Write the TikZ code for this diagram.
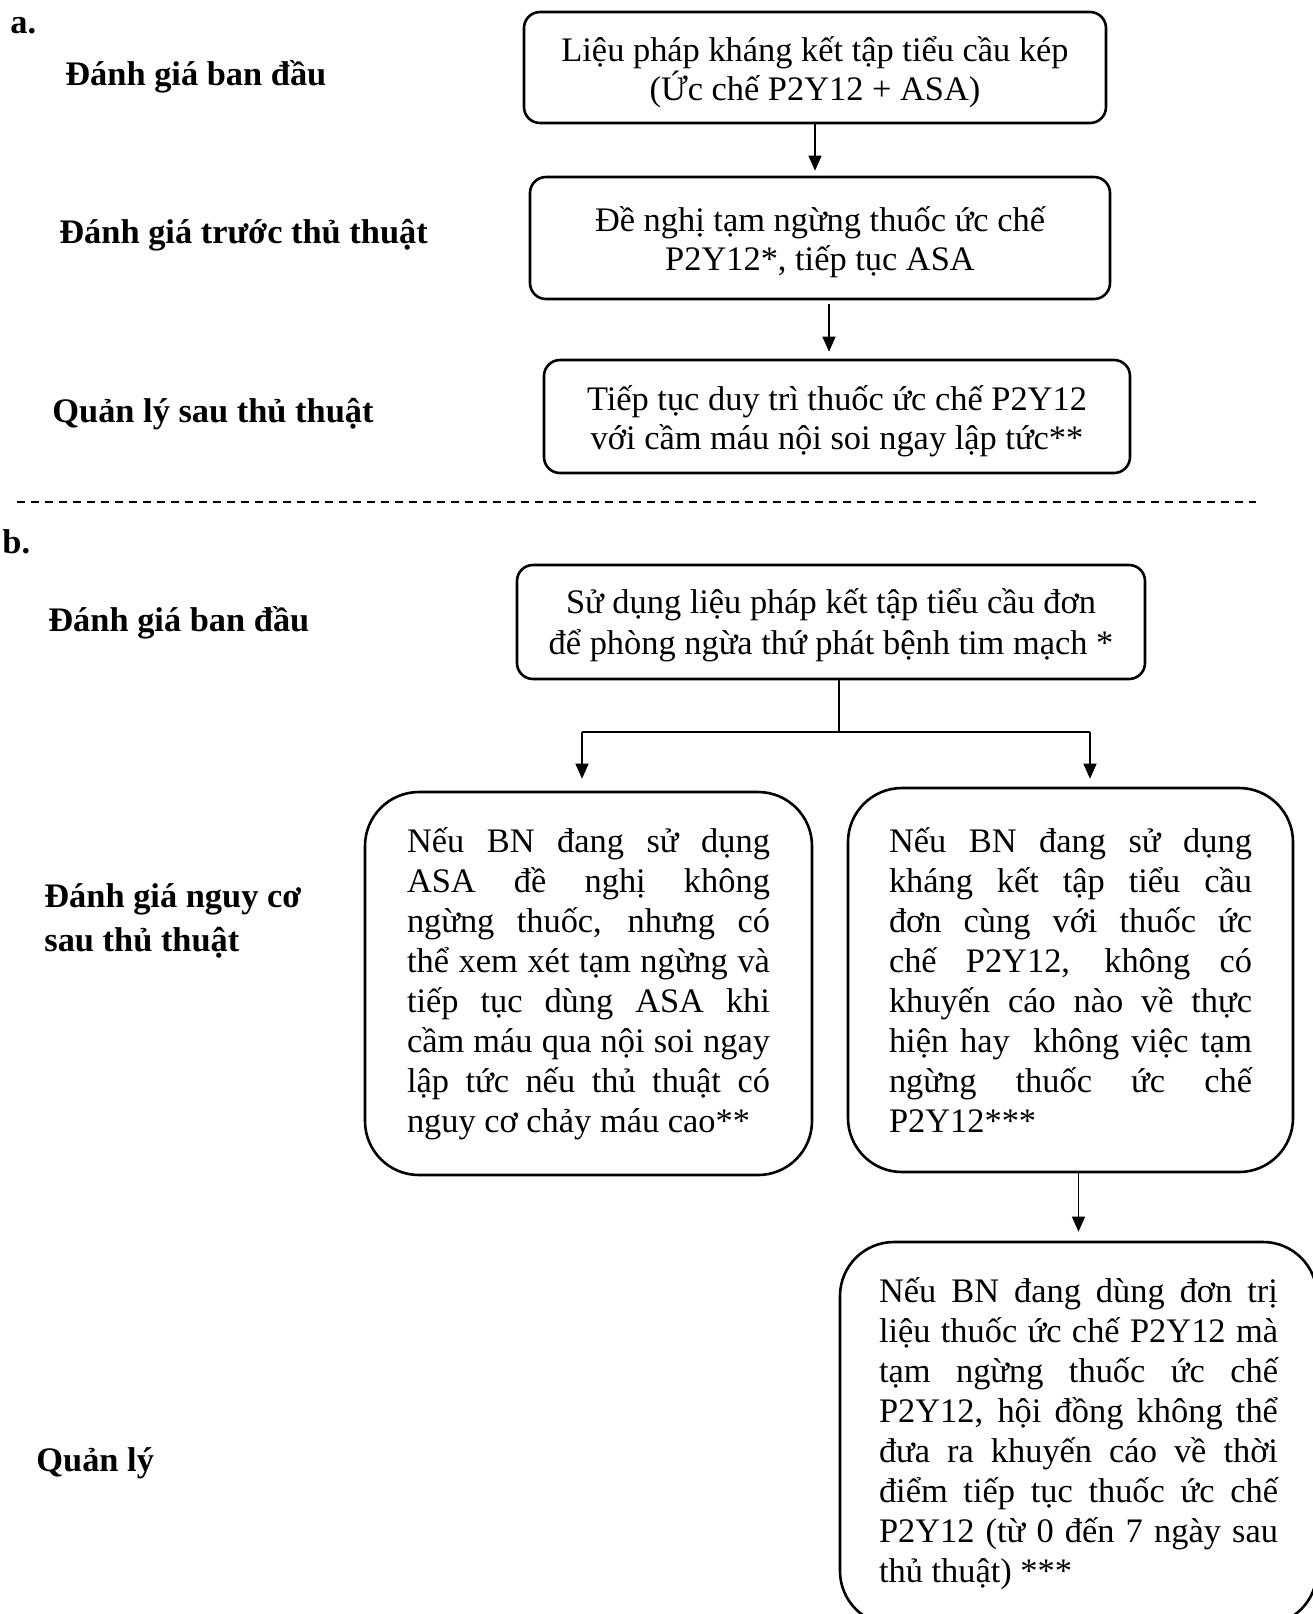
\documentclass[tikz,border=0pt]{standalone}
\usepackage{fontspec}
\setmainfont{Liberation Serif}
\usetikzlibrary{arrows.meta,calc}
\newcommand{\topstrut}{\rule{0pt}{17pt}}
\begin{document}
\begin{tikzpicture}[x=0.5pt, y=-0.5pt,
  font=\fontsize{17.2}{20}\selectfont,
  every node/.style={execute at begin node={\tolerance=10000\hyphenpenalty=10000\relax}},
  smallbox/.style={draw, line width=1.3pt, rounded corners=8pt, align=center, inner sep=0pt,
    font=\fontsize{17.2}{19.5}\selectfont},
  bigbox/.style={draw, line width=1.3pt, rounded corners=27pt, align=justify, inner ysep=0pt,
    font=\fontsize{17.2}{20}\selectfont},
  head/.style={font=\fontsize{17.2}{22}\selectfont\bfseries, inner sep=0pt, anchor=base west, align=left},
  conn/.style={line width=0.6pt},
  arr/.style={line width=0.6pt, -{Triangle[length=7.5pt,width=6.5pt]}},
  sep/.style={line width=0.6pt, dash pattern=on 4pt off 3pt}
]
\path[use as bounding box, clip] (0,0) rectangle (1313,1614);

% ---------- part a ----------
\node[head] (la) at (10,33) {a.};
\node[head] (ha1) at (65,85) {Đánh giá ban đầu};
\node[head] (ha2) at (59,243) {Đánh giá trước thủ thuật};
\node[head] (ha3) at (52,422) {Quản lý sau thủ thuật};

\node[smallbox, minimum width=291pt, minimum height=55.5pt] (A1) at (815,67.5)
  {\topstrut Liệu pháp kháng kết tập tiểu cầu kép\\(Ức chế P2Y12 + ASA)};
\node[smallbox, minimum width=290pt, minimum height=61pt] (A2) at (820,238)
  {\topstrut Đề nghị tạm ngừng thuốc ức chế\\P2Y12*, tiếp tục ASA};
\node[smallbox, minimum width=293pt, minimum height=56.5pt] (A3) at (837,416.5)
  {\topstrut Tiếp tục duy trì thuốc ức chế P2Y12\\với cầm máu nội soi ngay lập tức**};

\coordinate (ax) at (829,0);
\draw[arr, shorten >=2.5pt] (A1.south) -- (A2.north -| A1.south);
\draw[arr, shorten <=2pt, shorten >=3.5pt] (A2.south -| ax) -- (A3.north -| ax);

% ---------- separator ----------
\coordinate (d1) at (17,502);
\coordinate (d2) at (1256,502);
\draw[sep] (d1) -- (d2);

% ---------- part b ----------
\node[head] (lb) at (2,553) {b.};
\node[head] (hb1) at (48,631) {Đánh giá ban đầu};
\node[head, anchor=north west] (hb2) at (44,883) {Đánh giá nguy cơ\\sau thủ thuật};
\node[head] (hb3) at (36,1471) {Quản lý};

\node[smallbox, minimum width=314pt, minimum height=57pt, font=\fontsize{17.2}{20.5}\selectfont] (B1) at (831,622)
  {\rule{0pt}{16pt}Sử dụng liệu pháp kết tập tiểu cầu đơn\\để phòng ngừa thứ phát bệnh tim mạch *};

\node[bigbox, text width=181.5pt, inner xsep=21pt, minimum height=191.5pt] (B2) at (588.5,983.5)
  {Nếu BN đang sử dụng\linebreak
   ASA đề nghị không\linebreak
   ngừng thuốc, nhưng có\linebreak
   thể xem xét tạm ngừng và\linebreak
   tiếp tục dùng ASA khi\linebreak
   cầm máu qua nội soi ngay\linebreak
   lập tức nếu thủ thuật có\linebreak
   nguy cơ chảy máu cao**};

\node[bigbox, text width=181.5pt, inner xsep=20.5pt, minimum height=192pt] (B3) at (1070.5,980)
  {Nếu BN đang sử dụng\linebreak
   kháng kết tập tiểu cầu\linebreak
   đơn cùng với thuốc ức\linebreak
   chế P2Y12, không có\linebreak
   khuyến cáo nào về thực\linebreak
   hiện hay\ \ không việc tạm\linebreak
   ngừng thuốc ức chế\linebreak
   P2Y12***};

\node[bigbox, text width=199.5pt, inner xsep=19.5pt, minimum height=191.5pt] (B4) at (1078.5,1433.5)
  {Nếu BN đang dùng đơn trị\linebreak
   liệu thuốc ức chế P2Y12 mà\linebreak
   tạm ngừng thuốc ức chế\linebreak
   P2Y12, hội đồng không thể\linebreak
   đưa ra khuyến cáo về thời\linebreak
   điểm tiếp tục thuốc ức chế\linebreak
   P2Y12 (từ 0 đến 7 ngày sau\linebreak
   thủ thuật) ***};

\coordinate (bx) at (839,732);
\coordinate (bl) at (582,732);
\coordinate (br) at (1090,732);
\draw[conn] (B1.south -| bx) -- (bx);
\draw[conn] (bl) -- (br);
\draw[arr, shorten >=6pt] (bl) -- (B2.north -| bl);
\draw[arr, shorten >=4pt] (br) -- (B3.north -| br);
\draw[arr, shorten >=4.5pt] (B3.south -| B4.north) -- (B4.north);
\end{tikzpicture}
\end{document}
